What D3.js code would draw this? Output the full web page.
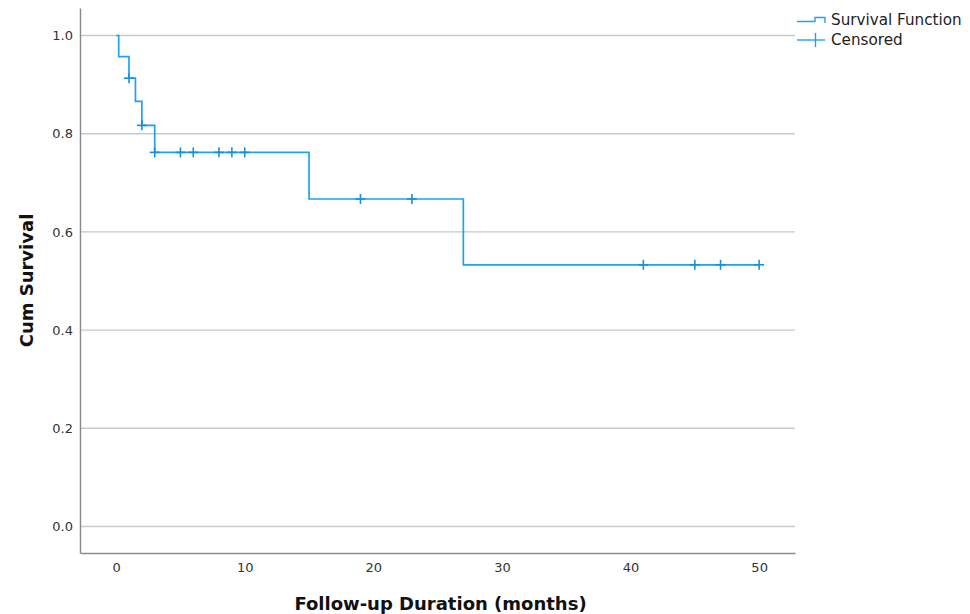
<html>
<head>
  <meta charset="utf-8">
  <title>Cum Survival</title>
  <script src="https://cdn.jsdelivr.net/npm/d3@7/dist/d3.min.js"></script>
  <style>
    body { margin: 0; background: #fff; }
    text { font-family: "DejaVu Sans", sans-serif; }
  </style>
</head>
<body>
<div id="chart"></div>
<script>
// event times (months) and survival after each drop
var eventTimes = [0, 0.2, 1, 1.5, 2, 3, 15, 27, 50];
var survival   = [1.0, 0.957, 0.913, 0.866, 0.817, 0.762, 0.667, 0.533, 0.533];
// censored cases (months)
var censorTimes = [1, 2, 3, 5, 6, 8, 9, 10, 19, 23, 41, 45, 47, 50];
var xTicks = [0, 10, 20, 30, 40, 50];
var yTicks = [0, 0.2, 0.4, 0.6, 0.8, 1.0];

var width = 970, height = 614;
var margin = {top: 8, right: 175, bottom: 61, left: 80};
var lineColor = "#1fa3ee", censorColor = "#1590dc";

var svg = d3.select("#chart").append("svg")
  .attr("width", width)
  .attr("height", height);

var x = d3.scaleLinear().domain([-2.81, 52.79]).range([margin.left, width - margin.right]);
var y = d3.scaleLinear().domain([-0.054, 1.056]).range([height - margin.bottom, margin.top]);

// gridlines
svg.append("g")
  .selectAll("line")
  .data(yTicks)
  .enter().append("line")
    .attr("x1", x.range()[0])
    .attr("x2", x.range()[1])
    .attr("y1", function(d) { return y(d); })
    .attr("y2", function(d) { return y(d); })
    .attr("stroke", "#c9c9c9")
    .attr("stroke-width", 1.4);

// axes
var xAxis = svg.append("g")
  .attr("transform", "translate(0," + y.range()[0] + ")")
  .call(d3.axisBottom(x).tickValues(xTicks).tickSize(0).tickPadding(10));
var yAxis = svg.append("g")
  .attr("transform", "translate(" + x.range()[0] + ",0)")
  .call(d3.axisLeft(y).tickValues(yTicks).tickSize(0).tickPadding(7).tickFormat(d3.format(".1f")));

[xAxis, yAxis].forEach(function(a) {
  a.select(".domain").attr("stroke", "#8c8c8c").attr("stroke-width", 1.5);
  a.selectAll("text")
    .attr("font-family", "DejaVu Sans")
    .attr("font-size", "13px")
    .attr("fill", "#333");
});

// survival step line
var pts = eventTimes.map(function(t, i) { return [t, survival[i]]; });
var line = d3.line()
  .x(function(d) { return x(d[0]); })
  .y(function(d) { return y(d[1]); })
  .curve(d3.curveStepAfter);

svg.append("path")
  .datum(pts)
  .attr("d", line)
  .attr("fill", "none")
  .attr("stroke", lineColor)
  .attr("stroke-width", 1.7);

// survival value at time t (right-continuous)
function survAt(t) {
  var s = 1;
  for (var i = 0; i < eventTimes.length; i++) {
    if (eventTimes[i] <= t) s = survival[i];
  }
  return s;
}

var marks = svg.append("g")
  .selectAll("g")
  .data(censorTimes)
  .enter().append("g")
    .attr("transform", function(d) { return "translate(" + x(d) + "," + y(survAt(d)) + ")"; });
marks.append("line")
  .attr("x1", 0).attr("x2", 0).attr("y1", -5).attr("y2", 5)
  .attr("stroke", censorColor).attr("stroke-width", 1.6);
marks.append("line")
  .attr("x1", -5).attr("x2", 5).attr("y1", 0).attr("y2", 0)
  .attr("stroke", censorColor).attr("stroke-width", 1.6);

// axis titles
svg.append("text")
  .attr("x", (x.range()[0] + x.range()[1]) / 2 + 3)
  .attr("y", 610)
  .attr("text-anchor", "middle")
  .attr("font-family", "Open Sans")
  .attr("font-weight", "bold")
  .attr("font-size", "18px")
  .attr("fill", "#111")
  .text("Follow-up Duration (months)");

svg.append("text")
  .attr("transform", "translate(33," + ((y.range()[0] + y.range()[1]) / 2) + ") rotate(-90)")
  .attr("text-anchor", "middle")
  .attr("font-family", "Open Sans")
  .attr("font-weight", "bold")
  .attr("font-size", "18px")
  .attr("fill", "#111")
  .text("Cum Survival");

// legend
var lg = svg.append("g").attr("transform", "translate(797,0)");
lg.append("path")
  .attr("d", "M0,21.5 H18 V17.5 H28 V23")
  .attr("fill", "none")
  .attr("stroke", lineColor)
  .attr("stroke-width", 1.4);
lg.append("line")
  .attr("x1", 0).attr("x2", 28).attr("y1", 40).attr("y2", 40)
  .attr("stroke", lineColor).attr("stroke-width", 1.4);
lg.append("line")
  .attr("x1", 18.5).attr("x2", 18.5).attr("y1", 33).attr("y2", 47)
  .attr("stroke", lineColor).attr("stroke-width", 1.4);
lg.selectAll("text.lab")
  .data(["Survival Function", "Censored"])
  .enter().append("text")
    .attr("class", "lab")
    .attr("x", 34)
    .attr("y", function(d, i) { return 25 + i * 19.5; })
    .attr("font-family", "Open Sans")
    .attr("font-size", "15.2px")
    .attr("fill", "#222")
    .text(function(d) { return d; });
</script>
</body>
</html>
